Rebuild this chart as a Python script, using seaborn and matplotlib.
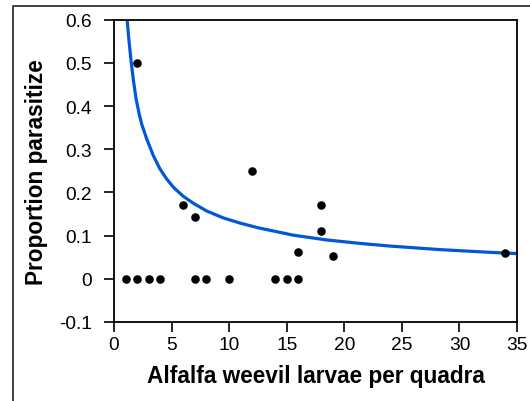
import matplotlib
matplotlib.use("Agg")
import matplotlib.pyplot as plt
import seaborn as sns
import pandas as pd
from matplotlib.lines import Line2D

# Observed data: larvae per quadrat vs proportion parasitized
larvae = [1, 2, 3, 4, 7, 8, 10, 14, 15, 16,
          2, 6, 7, 12, 16, 18, 18, 19, 34]
parasitized = [0, 0, 0, 0, 0, 0, 0, 0, 0, 0,
               0.50, 0.17, 0.143, 0.25, 0.0625, 0.17, 0.111, 0.053, 0.06]

# Fitted curve
curve_x = [1.14, 1.30, 1.48, 1.68, 1.91, 2.20, 2.41, 2.84, 3.42, 4.00, 4.58,
           5.16, 6.02, 6.89, 8.05, 9.50, 10.95, 12.54, 15.58, 18.47, 21.37,
           23.98, 28.32, 32.67, 35.0]
curve_y = [0.600, 0.552, 0.505, 0.461, 0.418, 0.380, 0.358, 0.324, 0.285, 0.254,
           0.231, 0.212, 0.191, 0.175, 0.157, 0.141, 0.129, 0.118, 0.101, 0.090,
           0.082, 0.0758, 0.0676, 0.0613, 0.0585]

x_ticks = [0, 5, 10, 15, 20, 25, 30, 35]
y_ticks = [-0.1, 0, 0.1, 0.2, 0.3, 0.4, 0.5, 0.6]
y_tick_labels = ["-0.1", "0", "0.1", "0.2", "0.3", "0.4", "0.5", "0.6"]

sns.set_style("ticks")
plt.rcParams['font.family'] = ['Liberation Sans', 'DejaVu Sans']
plt.rcParams['text.color'] = 'black'
plt.rcParams['axes.labelcolor'] = 'black'
plt.rcParams['xtick.color'] = 'black'
plt.rcParams['ytick.color'] = 'black'

fig = plt.figure(figsize=(5.30, 4.02), dpi=100)
ax = fig.add_axes([114/530, 1 - 323/402, (517-114)/530, (323-20.7)/402])

pts = pd.DataFrame({"x": larvae, "y": parasitized})
crv = pd.DataFrame({"x": curve_x, "y": curve_y})

sns.lineplot(data=crv, x="x", y="y", ax=ax, color="#0058d8", linewidth=2.3,
             sort=True, estimator=None)
sns.scatterplot(data=pts, x="x", y="y", ax=ax, color="black", s=38,
                edgecolor="black", linewidth=0, zorder=3)

ax.set_xlim(0, 35)
ax.set_ylim(-0.1, 0.6)
ax.set_xticks(x_ticks)
ax.set_xticklabels([str(t) for t in x_ticks])
ax.set_yticks(y_ticks)
ax.set_yticklabels(y_tick_labels)
ax.tick_params(axis="both", direction="out", length=7.2, width=1.2,
               labelsize=13.8, color="black", labelcolor="black")
ax.tick_params(axis="y", pad=8.5)
ax.tick_params(axis="x", pad=3)

for side in ["left", "right", "top", "bottom"]:
    ax.spines[side].set_visible(True)
    ax.spines[side].set_color("black")
    ax.spines[side].set_linewidth(1.3)

ax.set_xlabel("Alfalfa weevil larvae per quadra", fontsize=16.3,
              fontweight="bold", labelpad=8)
ax.set_ylabel("Proportion parasitize", fontsize=16.3, fontweight="bold",
              labelpad=8)

# outer frame lines (partial box of the original figure)
fig.add_artist(Line2D([13/530, 13/530, 1.0], [0.0, 1 - 6.5/402, 1 - 6.5/402],
                      transform=fig.transFigure, color="#333333", linewidth=1.3))

fig.savefig("out.png", dpi=100)
